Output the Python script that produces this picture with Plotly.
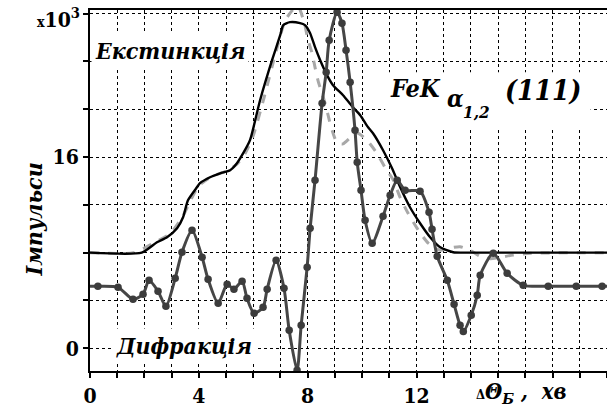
import plotly.graph_objects as go

# ---- data ----
ext_x = [0, 1.9, 2.46, 2.83, 3.2, 3.42, 3.6, 3.93, 4.04, 4.41, 4.78, 5.15, 5.4, 5.63, 5.88, 6.25, 6.69, 6.99,
         7.1, 7.35, 7.72, 7.9, 8.09, 8.27, 8.46, 8.71, 8.93, 9.3, 9.63, 9.93, 10.22, 10.4, 10.77, 11.1, 11.4,
         11.76, 12.13, 12.5, 12.87, 13.35, 13.71, 19]
ext_y = [8.0, 8.0, 8.87, 9.29, 10.04, 10.96, 12.38, 13.47, 13.81, 14.31, 14.64, 14.9, 15.48, 16.32, 17.41,
         20.75, 24.1, 26.19, 27.03, 27.28, 27.2, 27.03, 26.36, 25.19, 24.1, 22.85, 22.01, 21.17, 20.25, 19.5,
         18.49, 17.99, 16.57, 15.06, 13.47, 11.8, 10.46, 9.29, 8.45, 8.03, 8.0, 8.0]

theo_x = [0, 1.6, 2.5, 2.95, 3.4, 3.7, 4.0, 4.5, 5.0, 5.4, 5.7, 6.0, 6.4, 6.8, 7.17, 7.45, 7.65, 7.9, 8.01,
          8.16, 8.27, 8.38, 8.53, 8.64, 8.75, 8.85, 9.08, 9.3, 9.56, 9.82, 10.18, 10.55, 10.85, 11.14, 11.4,
          11.69, 12.06, 12.43, 12.87, 13.24, 13.6, 13.97, 14.34, 14.71, 15.07, 15.55, 16.2, 19]
theo_y = [8.0, 8.0, 9.0, 9.6, 11.0, 12.4, 13.6, 14.4, 14.8, 15.4, 16.3, 17.8, 21.0, 24.5, 27.4, 28.3, 28.6,
          27.0, 25.8, 24.7, 23.5, 22.4, 21.3, 20.5, 19.5, 18.6, 17.2, 17.1, 17.6, 18.0, 17.4, 16.3, 15.1, 14.1,
          12.6, 11.3, 9.9, 8.8, 8.2, 8.4, 8.5, 8.2, 7.7, 7.5, 7.6, 7.8, 7.95, 8.0]

dif_x = [0.0, 0.29, 1.03, 1.58, 1.95, 2.17, 2.50, 2.79, 3.13, 3.38, 3.75, 4.12, 4.34, 4.71, 5.04, 5.29, 5.59,
         5.77, 6.03, 6.36, 6.51, 6.84, 7.13, 7.32, 7.61, 7.76, 7.98, 8.09, 8.27, 8.53, 8.68, 8.79, 9.08, 9.26,
         9.41, 9.56, 9.74, 9.82, 9.96, 10.11, 10.37, 10.77, 11.03, 11.29, 11.58, 12.13, 12.46, 12.57, 12.76,
         13.13, 13.38, 13.60, 13.72, 14.01, 14.23, 14.34, 14.82, 15.33, 15.92, 16.84, 17.87, 18.82, 19.0]
dif_y = [5.19, 5.19, 5.10, 4.10, 4.52, 5.69, 4.77, 3.51, 5.86, 8.03, 9.87, 7.62, 5.77, 3.77, 5.36, 4.94, 5.61,
         4.18, 2.93, 3.43, 4.94, 7.36, 5.02, 1.51, -1.84, 1.92, 6.78, 10.04, 14.06, 20.50, 23.10, 25.77, 28.12,
         27.20, 24.94, 22.26, 18.24, 15.56, 13.22, 10.71, 8.79, 11.05, 12.80, 14.06, 13.22, 13.14, 11.38, 9.96,
         7.70, 5.69, 3.68, 1.92, 1.40, 2.76, 4.44, 6.11, 7.95, 6.28, 5.27, 5.19, 5.19, 5.19, 5.19]

x_tickvals = list(range(0, 20))
x_ticktext = ["0", "", "", "", "4", "", "", "", "8", "", "", "", "12", "", "", "", "", "", "", ""]
y_tickvals = [0, 4, 8, 12, 16, 20, 24, 28]
y_ticktext = ["0", "", "", "", "16", "", "", ""]

FONT = "DejaVu Serif Condensed, DejaVu Serif"
DARK = "#464646"

fig = go.Figure()
fig.add_trace(go.Scatter(x=theo_x, y=theo_y, mode="lines",
                         line=dict(color="#a8a8a8", width=3, dash="dash", shape="spline", smoothing=0.6),
                         hoverinfo="skip"))
fig.add_trace(go.Scatter(x=ext_x, y=ext_y, mode="lines",
                         line=dict(color="black", width=2.4, shape="spline", smoothing=0.6),
                         hoverinfo="skip"))
sizes = [0] + [7.5] * (len(dif_x) - 2) + [0]
fig.add_trace(go.Scatter(x=dif_x, y=dif_y, mode="lines+markers",
                         line=dict(color=DARK, width=3, shape="spline", smoothing=0.7),
                         marker=dict(color="#3c3c3c", size=sizes, opacity=1, line=dict(width=0)),
                         hoverinfo="skip"))

fig.update_layout(
    width=607, height=408,
    margin=dict(l=90, r=0, t=10, b=37),
    paper_bgcolor="white", plot_bgcolor="white",
    showlegend=False,
    font=dict(family=FONT, color="black"),
    xaxis=dict(range=[0, 19], tickvals=x_tickvals, ticktext=x_ticktext,
               showgrid=True, gridcolor="black", griddash="dot", gridwidth=1,
               showline=True, linecolor="black", linewidth=2, mirror=True,
               ticks="outside", ticklen=5, tickwidth=2, tickcolor="black",
               tickfont=dict(family=FONT, size=21, color="black", weight="bold"),
               zeroline=False),
    yaxis=dict(range=[-1.9, 28.3], tickvals=y_tickvals, ticktext=y_ticktext,
               showgrid=True, gridcolor="black", griddash="dot", gridwidth=1,
               showline=True, linecolor="black", linewidth=2, mirror=False,
               ticks="outside", ticklen=5, tickwidth=2, tickcolor="black",
               tickfont=dict(family=FONT, size=21, color="black", weight="bold"),
               zeroline=False),
)

fig.add_shape(type="rect", xref="x", yref="y", x0=10.85, x1=18.4, y0=18.5, y1=23.1,
              fillcolor="white", line=dict(width=0), layer="above")

ann = [
    dict(x=2.94, y=24.9, text="<b><i>Екстинкція</i></b>", font=dict(size=23), bgcolor="white", borderpad=3),
    dict(x=3.46, y=0.2, text="<b><i>Дифракція</i></b>", font=dict(size=23), bgcolor="white", borderpad=3),
    dict(x=10.95, y=21.7, text="<b><i>FeK</i></b>", font=dict(size=25), xanchor="left"),
    dict(x=13.45, y=20.9, text="<b><i>α</i></b>", font=dict(size=24)),
    dict(x=14.2, y=19.8, text="<b><i>1,2</i></b>", font=dict(size=17)),
    dict(x=16.65, y=21.6, text="<b><i>(111)</i></b>", font=dict(size=28)),
]
for a in ann:
    a.update(xref="x", yref="y", showarrow=False)
    a["font"].update(family=FONT, color="black")
    fig.add_annotation(**a)

fig.add_annotation(xref="paper", yref="paper", x=0, y=1, xanchor="right", yanchor="middle",
                   xshift=-8, yshift=-8, showarrow=False,
                   text="<b><span style='font-size:14px'>x</span>10<sup>3</sup></b>",
                   font=dict(family=FONT, size=21, color="black"))
fig.add_annotation(xref="paper", yref="paper", x=-0.14, y=0.42, textangle=-90, showarrow=False,
                   text="<b><i>Імпульси</i></b>", font=dict(family=FONT, size=23, color="black"))
fig.add_annotation(xref="paper", yref="paper", x=0.743, y=0, xanchor="left", yanchor="top", yshift=-5,
                   showarrow=False,
                   text="<b><span style='font-size:13px'>Δ</span><i>Θ<sub>Б</sub> ,  хв</i></b>",
                   font=dict(family=FONT, size=22, color="black"))

fig.write_html("out.html")
